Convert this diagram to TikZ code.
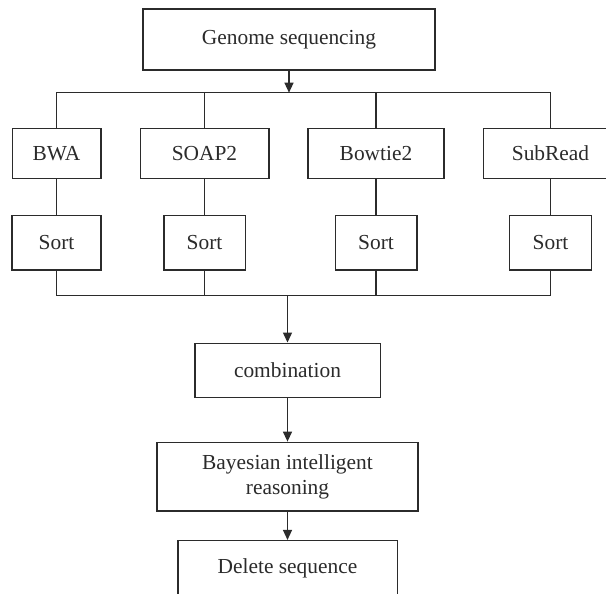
\documentclass[tikz,border=0pt]{standalone}
\usepackage{fontspec}
\setmainfont{Liberation Serif}
\usetikzlibrary{arrows.meta}
\definecolor{ink}{HTML}{2B2B2B}
\begin{document}
\begin{tikzpicture}[x=1pt,y=-1pt,
  box/.style={draw=ink, line width=1.5pt, fill=white, text=ink, align=center,
    inner sep=0pt, font=\fontsize{21.4}{25.5}\selectfont},
  link/.style={draw=ink, line width=1.3pt},
  flow/.style={link, -{Triangle[length=10pt,width=9pt]}}]
\clip (0,0) rectangle (606,594);
\fill[white] (0,0) rectangle (606,594);

% source
\node[box, minimum width=292pt, minimum height=61pt] (gen) at (289,39.7) {Genome sequencing};

% aligners
\node[box, minimum width=88.5pt, minimum height=50pt] (bwa)  at (56.5,153.4) {BWA};
\node[box, minimum width=128.5pt, minimum height=50pt] (soap) at (204.5,153.4) {SOAP2};
\node[box, minimum width=136pt, minimum height=50pt] (bow)  at (376,153.4) {Bowtie2};
\node[box, minimum width=134pt, minimum height=50pt] (sub)  at (550.5,153.4) {SubRead};

% sorting
\node[box, minimum width=89pt, minimum height=54.5pt] (s1) at (56.5,242.8) {Sort};
\node[box, minimum width=81.5pt, minimum height=54.5pt] (s2) at (204.5,242.8) {Sort};
\node[box, minimum width=81.5pt, minimum height=54.5pt] (s3) at (376,242.8) {Sort};
\node[box, minimum width=82pt, minimum height=54.5pt] (s4) at (550.5,242.8) {Sort};

% merging and inference
\node[box, minimum width=185.5pt, minimum height=54.4pt] (comb) at (287.5,370.5) {combination};
\node[box, minimum width=261pt, minimum height=68.7pt] (bayes) at (287.5,476.7) {Bayesian intelligent\\reasoning};
\node[box, minimum width=219.5pt, minimum height=55pt] (del) at (287.5,568.2) {Delete sequence};

% buses
\coordinate (tb) at (289,92.7);
\coordinate (bb) at (287.5,295.2);

\draw[flow] (gen.south) -- (tb);
\foreach \n in {bwa,soap,bow,sub} \draw[link] (\n.north) |- (tb);
\draw[link] (bwa.south) -- (s1.north);
\draw[link] (soap.south) -- (s2.north);
\draw[link] (bow.south) -- (s3.north);
\draw[link] (sub.south) -- (s4.north);
\foreach \n in {s1,s2,s3,s4} \draw[link] (\n.south) |- (bb);
\draw[flow] (bb) -- (comb.north);
\draw[flow] (comb.south) -- (bayes.north);
\draw[flow] (bayes.south) -- (del.north);
\end{tikzpicture}
\end{document}
